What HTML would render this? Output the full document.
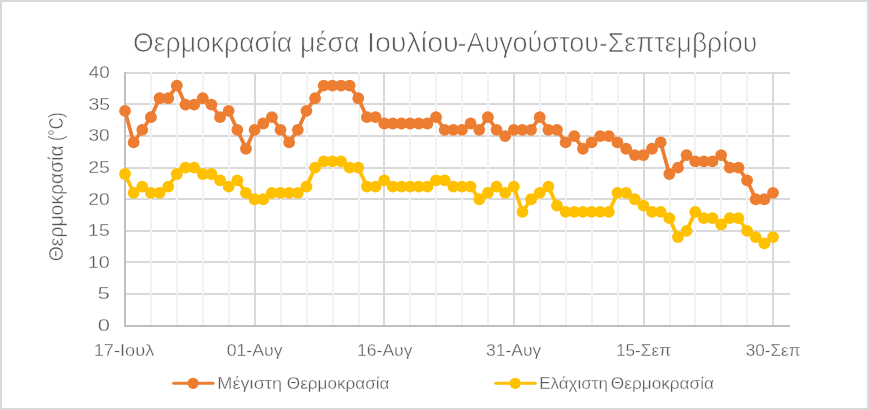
<!DOCTYPE html>
<html><head><meta charset="utf-8"><title>chart</title>
<style>
html,body{margin:0;padding:0;background:#fff;}
body{width:869px;height:410px;overflow:hidden;}
svg{display:block;will-change:transform;}
text{font-family:"Liberation Sans",sans-serif;fill:#595959;}
</style></head><body>
<svg width="869" height="410" viewBox="0 0 869 410">
<rect x="0" y="0" width="869" height="410" fill="#fff"/>
<rect x="1" y="1" width="867" height="408" fill="none" stroke="#D9D9D9" stroke-width="2"/>
<path d="M124.0 294H790.0M124.0 262H790.0M124.0 231H790.0M124.0 199H790.0M124.0 168H790.0M124.0 136H790.0M124.0 104H790.0M124.0 73H790.0" stroke="#D9D9D9" stroke-width="2" fill="none"/>
<path d="M151 72.0V325.5M177 72.0V325.5M203 72.0V325.5M229 72.0V325.5M281 72.0V325.5M307 72.0V325.5M333 72.0V325.5M359 72.0V325.5M410 72.0V325.5M436 72.0V325.5M462 72.0V325.5M488 72.0V325.5M540 72.0V325.5M566 72.0V325.5M592 72.0V325.5M618 72.0V325.5M670 72.0V325.5M695 72.0V325.5M721 72.0V325.5M747 72.0V325.5" stroke="#F2F2F2" stroke-width="2" fill="none"/>
<path d="M255 72.0V325.5M384 72.0V325.5M514 72.0V325.5M644 72.0V325.5M773 72.0V325.5" stroke="#D9D9D9" stroke-width="2" fill="none"/>
<path d="M125 72V327M124 326H790.0" stroke="#BFBFBF" stroke-width="2" fill="none"/>
<polyline points="125.00,110.88 133.64,142.44 142.28,129.81 150.92,117.19 159.56,98.25 168.20,98.25 176.84,85.62 185.48,104.56 194.12,104.56 202.76,98.25 211.40,104.56 220.04,117.19 228.68,110.88 237.32,129.81 245.96,148.75 254.60,129.81 263.24,123.50 271.88,117.19 280.52,129.81 289.16,142.44 297.80,129.81 306.44,110.88 315.08,98.25 323.72,85.62 332.36,85.62 341.00,85.62 349.64,85.62 358.28,98.25 366.92,117.19 375.56,117.19 384.20,123.50 392.84,123.50 401.48,123.50 410.12,123.50 418.76,123.50 427.40,123.50 436.04,117.19 444.68,129.81 453.32,129.81 461.96,129.81 470.60,123.50 479.24,129.81 487.88,117.19 496.52,129.81 505.16,136.12 513.80,129.81 522.44,129.81 531.08,129.81 539.72,117.19 548.36,129.81 557.00,129.81 565.64,142.44 574.28,136.12 582.92,148.75 591.56,142.44 600.20,136.12 608.84,136.12 617.48,142.44 626.12,148.75 634.76,155.06 643.40,155.06 652.04,148.75 660.68,142.44 669.32,174.00 677.96,167.69 686.60,155.06 695.24,161.38 703.88,161.38 712.52,161.38 721.16,155.06 729.80,167.69 738.44,167.69 747.08,180.31 755.72,199.25 764.36,199.25 773.00,192.94" fill="none" stroke="#ED7D31" stroke-width="3.7" stroke-linejoin="round" stroke-linecap="round"/>
<g fill="#ED7D31"><circle cx="125.00" cy="110.88" r="5.9"/><circle cx="133.64" cy="142.44" r="5.9"/><circle cx="142.28" cy="129.81" r="5.9"/><circle cx="150.92" cy="117.19" r="5.9"/><circle cx="159.56" cy="98.25" r="5.9"/><circle cx="168.20" cy="98.25" r="5.9"/><circle cx="176.84" cy="85.62" r="5.9"/><circle cx="185.48" cy="104.56" r="5.9"/><circle cx="194.12" cy="104.56" r="5.9"/><circle cx="202.76" cy="98.25" r="5.9"/><circle cx="211.40" cy="104.56" r="5.9"/><circle cx="220.04" cy="117.19" r="5.9"/><circle cx="228.68" cy="110.88" r="5.9"/><circle cx="237.32" cy="129.81" r="5.9"/><circle cx="245.96" cy="148.75" r="5.9"/><circle cx="254.60" cy="129.81" r="5.9"/><circle cx="263.24" cy="123.50" r="5.9"/><circle cx="271.88" cy="117.19" r="5.9"/><circle cx="280.52" cy="129.81" r="5.9"/><circle cx="289.16" cy="142.44" r="5.9"/><circle cx="297.80" cy="129.81" r="5.9"/><circle cx="306.44" cy="110.88" r="5.9"/><circle cx="315.08" cy="98.25" r="5.9"/><circle cx="323.72" cy="85.62" r="5.9"/><circle cx="332.36" cy="85.62" r="5.9"/><circle cx="341.00" cy="85.62" r="5.9"/><circle cx="349.64" cy="85.62" r="5.9"/><circle cx="358.28" cy="98.25" r="5.9"/><circle cx="366.92" cy="117.19" r="5.9"/><circle cx="375.56" cy="117.19" r="5.9"/><circle cx="384.20" cy="123.50" r="5.9"/><circle cx="392.84" cy="123.50" r="5.9"/><circle cx="401.48" cy="123.50" r="5.9"/><circle cx="410.12" cy="123.50" r="5.9"/><circle cx="418.76" cy="123.50" r="5.9"/><circle cx="427.40" cy="123.50" r="5.9"/><circle cx="436.04" cy="117.19" r="5.9"/><circle cx="444.68" cy="129.81" r="5.9"/><circle cx="453.32" cy="129.81" r="5.9"/><circle cx="461.96" cy="129.81" r="5.9"/><circle cx="470.60" cy="123.50" r="5.9"/><circle cx="479.24" cy="129.81" r="5.9"/><circle cx="487.88" cy="117.19" r="5.9"/><circle cx="496.52" cy="129.81" r="5.9"/><circle cx="505.16" cy="136.12" r="5.9"/><circle cx="513.80" cy="129.81" r="5.9"/><circle cx="522.44" cy="129.81" r="5.9"/><circle cx="531.08" cy="129.81" r="5.9"/><circle cx="539.72" cy="117.19" r="5.9"/><circle cx="548.36" cy="129.81" r="5.9"/><circle cx="557.00" cy="129.81" r="5.9"/><circle cx="565.64" cy="142.44" r="5.9"/><circle cx="574.28" cy="136.12" r="5.9"/><circle cx="582.92" cy="148.75" r="5.9"/><circle cx="591.56" cy="142.44" r="5.9"/><circle cx="600.20" cy="136.12" r="5.9"/><circle cx="608.84" cy="136.12" r="5.9"/><circle cx="617.48" cy="142.44" r="5.9"/><circle cx="626.12" cy="148.75" r="5.9"/><circle cx="634.76" cy="155.06" r="5.9"/><circle cx="643.40" cy="155.06" r="5.9"/><circle cx="652.04" cy="148.75" r="5.9"/><circle cx="660.68" cy="142.44" r="5.9"/><circle cx="669.32" cy="174.00" r="5.9"/><circle cx="677.96" cy="167.69" r="5.9"/><circle cx="686.60" cy="155.06" r="5.9"/><circle cx="695.24" cy="161.38" r="5.9"/><circle cx="703.88" cy="161.38" r="5.9"/><circle cx="712.52" cy="161.38" r="5.9"/><circle cx="721.16" cy="155.06" r="5.9"/><circle cx="729.80" cy="167.69" r="5.9"/><circle cx="738.44" cy="167.69" r="5.9"/><circle cx="747.08" cy="180.31" r="5.9"/><circle cx="755.72" cy="199.25" r="5.9"/><circle cx="764.36" cy="199.25" r="5.9"/><circle cx="773.00" cy="192.94" r="5.9"/></g>
<polyline points="125.00,174.00 133.64,192.94 142.28,186.62 150.92,192.94 159.56,192.94 168.20,186.62 176.84,174.00 185.48,167.69 194.12,167.69 202.76,174.00 211.40,174.00 220.04,180.31 228.68,186.62 237.32,180.31 245.96,192.94 254.60,199.25 263.24,199.25 271.88,192.94 280.52,192.94 289.16,192.94 297.80,192.94 306.44,186.62 315.08,167.69 323.72,161.38 332.36,161.38 341.00,161.38 349.64,167.69 358.28,167.69 366.92,186.62 375.56,186.62 384.20,180.31 392.84,186.62 401.48,186.62 410.12,186.62 418.76,186.62 427.40,186.62 436.04,180.31 444.68,180.31 453.32,186.62 461.96,186.62 470.60,186.62 479.24,199.25 487.88,192.94 496.52,186.62 505.16,192.94 513.80,186.62 522.44,211.88 531.08,199.25 539.72,192.94 548.36,186.62 557.00,205.56 565.64,211.88 574.28,211.88 582.92,211.88 591.56,211.88 600.20,211.88 608.84,211.88 617.48,192.94 626.12,192.94 634.76,199.25 643.40,205.56 652.04,211.88 660.68,211.88 669.32,218.19 677.96,237.12 686.60,230.81 695.24,211.88 703.88,218.19 712.52,218.19 721.16,224.50 729.80,218.19 738.44,218.19 747.08,230.81 755.72,237.12 764.36,243.44 773.00,237.12" fill="none" stroke="#FFC000" stroke-width="3.7" stroke-linejoin="round" stroke-linecap="round"/>
<g fill="#FFC000"><circle cx="125.00" cy="174.00" r="5.9"/><circle cx="133.64" cy="192.94" r="5.9"/><circle cx="142.28" cy="186.62" r="5.9"/><circle cx="150.92" cy="192.94" r="5.9"/><circle cx="159.56" cy="192.94" r="5.9"/><circle cx="168.20" cy="186.62" r="5.9"/><circle cx="176.84" cy="174.00" r="5.9"/><circle cx="185.48" cy="167.69" r="5.9"/><circle cx="194.12" cy="167.69" r="5.9"/><circle cx="202.76" cy="174.00" r="5.9"/><circle cx="211.40" cy="174.00" r="5.9"/><circle cx="220.04" cy="180.31" r="5.9"/><circle cx="228.68" cy="186.62" r="5.9"/><circle cx="237.32" cy="180.31" r="5.9"/><circle cx="245.96" cy="192.94" r="5.9"/><circle cx="254.60" cy="199.25" r="5.9"/><circle cx="263.24" cy="199.25" r="5.9"/><circle cx="271.88" cy="192.94" r="5.9"/><circle cx="280.52" cy="192.94" r="5.9"/><circle cx="289.16" cy="192.94" r="5.9"/><circle cx="297.80" cy="192.94" r="5.9"/><circle cx="306.44" cy="186.62" r="5.9"/><circle cx="315.08" cy="167.69" r="5.9"/><circle cx="323.72" cy="161.38" r="5.9"/><circle cx="332.36" cy="161.38" r="5.9"/><circle cx="341.00" cy="161.38" r="5.9"/><circle cx="349.64" cy="167.69" r="5.9"/><circle cx="358.28" cy="167.69" r="5.9"/><circle cx="366.92" cy="186.62" r="5.9"/><circle cx="375.56" cy="186.62" r="5.9"/><circle cx="384.20" cy="180.31" r="5.9"/><circle cx="392.84" cy="186.62" r="5.9"/><circle cx="401.48" cy="186.62" r="5.9"/><circle cx="410.12" cy="186.62" r="5.9"/><circle cx="418.76" cy="186.62" r="5.9"/><circle cx="427.40" cy="186.62" r="5.9"/><circle cx="436.04" cy="180.31" r="5.9"/><circle cx="444.68" cy="180.31" r="5.9"/><circle cx="453.32" cy="186.62" r="5.9"/><circle cx="461.96" cy="186.62" r="5.9"/><circle cx="470.60" cy="186.62" r="5.9"/><circle cx="479.24" cy="199.25" r="5.9"/><circle cx="487.88" cy="192.94" r="5.9"/><circle cx="496.52" cy="186.62" r="5.9"/><circle cx="505.16" cy="192.94" r="5.9"/><circle cx="513.80" cy="186.62" r="5.9"/><circle cx="522.44" cy="211.88" r="5.9"/><circle cx="531.08" cy="199.25" r="5.9"/><circle cx="539.72" cy="192.94" r="5.9"/><circle cx="548.36" cy="186.62" r="5.9"/><circle cx="557.00" cy="205.56" r="5.9"/><circle cx="565.64" cy="211.88" r="5.9"/><circle cx="574.28" cy="211.88" r="5.9"/><circle cx="582.92" cy="211.88" r="5.9"/><circle cx="591.56" cy="211.88" r="5.9"/><circle cx="600.20" cy="211.88" r="5.9"/><circle cx="608.84" cy="211.88" r="5.9"/><circle cx="617.48" cy="192.94" r="5.9"/><circle cx="626.12" cy="192.94" r="5.9"/><circle cx="634.76" cy="199.25" r="5.9"/><circle cx="643.40" cy="205.56" r="5.9"/><circle cx="652.04" cy="211.88" r="5.9"/><circle cx="660.68" cy="211.88" r="5.9"/><circle cx="669.32" cy="218.19" r="5.9"/><circle cx="677.96" cy="237.12" r="5.9"/><circle cx="686.60" cy="230.81" r="5.9"/><circle cx="695.24" cy="211.88" r="5.9"/><circle cx="703.88" cy="218.19" r="5.9"/><circle cx="712.52" cy="218.19" r="5.9"/><circle cx="721.16" cy="224.50" r="5.9"/><circle cx="729.80" cy="218.19" r="5.9"/><circle cx="738.44" cy="218.19" r="5.9"/><circle cx="747.08" cy="230.81" r="5.9"/><circle cx="755.72" cy="237.12" r="5.9"/><circle cx="764.36" cy="243.44" r="5.9"/><circle cx="773.00" cy="237.12" r="5.9"/></g>
<path d="M173.7 383.3H213.1" stroke="#ED7D31" stroke-width="3" stroke-linecap="round"/><circle cx="193.1" cy="383.3" r="5.6" fill="#ED7D31"/>
<path d="M495.8 383.3H535.2" stroke="#FFC000" stroke-width="3" stroke-linecap="round"/><circle cx="515.2" cy="383.3" r="5.6" fill="#FFC000"/>
<text x="133.05" y="51.90" font-size="27.5" textLength="159.20" lengthAdjust="spacingAndGlyphs" stroke="#fff" stroke-width="0.7" stroke-linejoin="round">Θερμοκρασία</text>
<text x="300.10" y="51.90" font-size="27.5" textLength="59.50" lengthAdjust="spacingAndGlyphs" stroke="#fff" stroke-width="0.7" stroke-linejoin="round">μέσα</text>
<text x="366.95" y="51.90" font-size="27.5" textLength="91.80" lengthAdjust="spacingAndGlyphs" stroke="#fff" stroke-width="0.7" stroke-linejoin="round">Ιουλίου</text>
<text x="457.50" y="51.90" font-size="27.5" textLength="141.40" lengthAdjust="spacingAndGlyphs" stroke="#fff" stroke-width="0.7" stroke-linejoin="round">-Αυγούστου</text>
<text x="599.05" y="51.90" font-size="27.5" textLength="158.25" lengthAdjust="spacingAndGlyphs" stroke="#fff" stroke-width="0.7" stroke-linejoin="round">-Σεπτεμβρίου</text>
<text x="97.75" y="330.85" font-size="17" textLength="12.25" lengthAdjust="spacingAndGlyphs" stroke="#fff" stroke-width="0.3" stroke-linejoin="round">0</text>
<text x="97.50" y="299.29" font-size="17" textLength="12.50" lengthAdjust="spacingAndGlyphs" stroke="#fff" stroke-width="0.3" stroke-linejoin="round">5</text>
<text x="87.75" y="267.73" font-size="17" textLength="22.00" lengthAdjust="spacingAndGlyphs" stroke="#fff" stroke-width="0.3" stroke-linejoin="round">10</text>
<text x="87.75" y="236.16" font-size="17" textLength="22.25" lengthAdjust="spacingAndGlyphs" stroke="#fff" stroke-width="0.3" stroke-linejoin="round">15</text>
<text x="88.25" y="204.60" font-size="17" textLength="21.50" lengthAdjust="spacingAndGlyphs" stroke="#fff" stroke-width="0.3" stroke-linejoin="round">20</text>
<text x="88.25" y="173.04" font-size="17" textLength="21.75" lengthAdjust="spacingAndGlyphs" stroke="#fff" stroke-width="0.3" stroke-linejoin="round">25</text>
<text x="88.50" y="141.47" font-size="17" textLength="21.25" lengthAdjust="spacingAndGlyphs" stroke="#fff" stroke-width="0.3" stroke-linejoin="round">30</text>
<text x="88.50" y="109.91" font-size="17" textLength="21.50" lengthAdjust="spacingAndGlyphs" stroke="#fff" stroke-width="0.3" stroke-linejoin="round">35</text>
<text x="88.75" y="78.35" font-size="17" textLength="21.00" lengthAdjust="spacingAndGlyphs" stroke="#fff" stroke-width="0.3" stroke-linejoin="round">40</text>
<text x="93.75" y="355.70" font-size="17" textLength="60.50" lengthAdjust="spacingAndGlyphs" stroke="#fff" stroke-width="0.3" stroke-linejoin="round">17-Ιουλ</text>
<text x="226.75" y="355.70" font-size="17" textLength="55.75" lengthAdjust="spacingAndGlyphs" stroke="#fff" stroke-width="0.3" stroke-linejoin="round">01-Αυγ</text>
<text x="357.00" y="355.70" font-size="17" textLength="55.50" lengthAdjust="spacingAndGlyphs" stroke="#fff" stroke-width="0.3" stroke-linejoin="round">16-Αυγ</text>
<text x="486.00" y="355.70" font-size="17" textLength="55.25" lengthAdjust="spacingAndGlyphs" stroke="#fff" stroke-width="0.3" stroke-linejoin="round">31-Αυγ</text>
<text x="616.00" y="355.70" font-size="17" textLength="55.00" lengthAdjust="spacingAndGlyphs" stroke="#fff" stroke-width="0.3" stroke-linejoin="round">15-Σεπ</text>
<text x="745.75" y="355.70" font-size="17" textLength="54.75" lengthAdjust="spacingAndGlyphs" stroke="#fff" stroke-width="0.3" stroke-linejoin="round">30-Σεπ</text>
<text transform="translate(63.30 261.30) rotate(-90)" font-size="19.3" textLength="116.10" lengthAdjust="spacingAndGlyphs" stroke="#fff" stroke-width="0.35" stroke-linejoin="round">Θερμοκρασία</text>
<text transform="translate(63.30 141.10) rotate(-90)" font-size="19.3" textLength="28.70" lengthAdjust="spacingAndGlyphs" stroke="#fff" stroke-width="0.35" stroke-linejoin="round">(°C)</text>
<text x="217.35" y="388.60" font-size="17" textLength="64.75" lengthAdjust="spacingAndGlyphs" stroke="#fff" stroke-width="0.3" stroke-linejoin="round">Μέγιστη</text>
<text x="286.80" y="388.60" font-size="17" textLength="102.75" lengthAdjust="spacingAndGlyphs" stroke="#fff" stroke-width="0.3" stroke-linejoin="round">Θερμοκρασία</text>
<text x="539.15" y="388.60" font-size="17" textLength="68.90" lengthAdjust="spacingAndGlyphs" stroke="#fff" stroke-width="0.3" stroke-linejoin="round">Ελάχιστη</text>
<text x="610.85" y="388.60" font-size="17" textLength="103.15" lengthAdjust="spacingAndGlyphs" stroke="#fff" stroke-width="0.3" stroke-linejoin="round">Θερμοκρασία</text>
</svg>
</body></html>
